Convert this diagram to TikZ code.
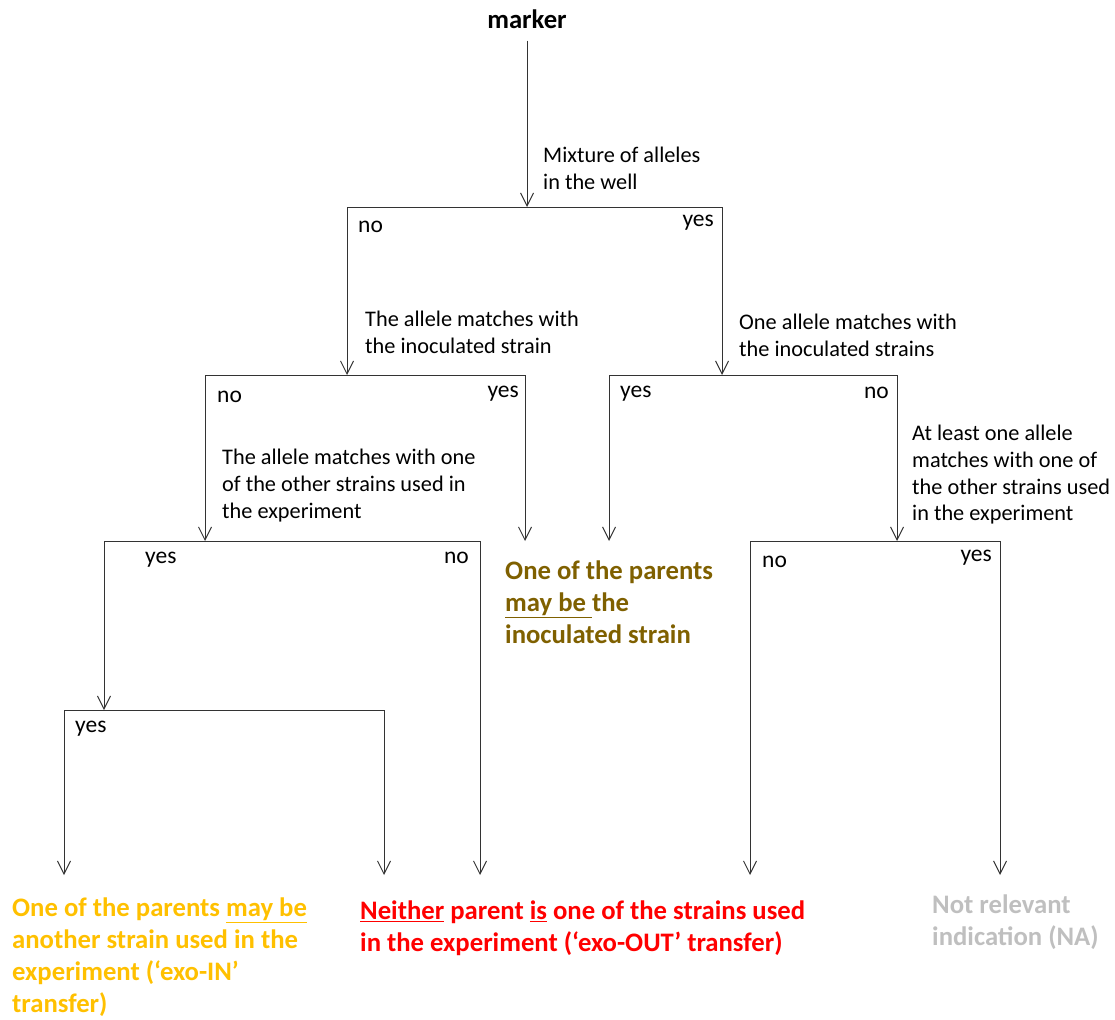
\documentclass[tikz,border=0pt]{standalone}
\usepackage{fontspec}
\setmainfont{Carlito}
\usetikzlibrary{arrows.meta, positioning}

\definecolor{exoin}{HTML}{FFC000}
\definecolor{inoc}{HTML}{7F6000}
\definecolor{exoout}{HTML}{FF0000}
\definecolor{na}{HTML}{BFBFBF}

\begin{document}
\begin{tikzpicture}[x=1pt, y=-1pt,
        branch/.style={draw=black!80, line width=1pt},
        arr/.style={branch, -{Straight Barb[length=13pt, width=13pt, line width=1pt]}},
        cond/.style={inner sep=0pt, anchor=north west, align=left, font=\fontsize{22.3}{26.7}\selectfont},
        ans/.style={inner sep=0pt, font=\fontsize{23.5}{28}\selectfont},
        result/.style={inner sep=0pt, anchor=north west, align=left, font=\fontsize{26.7}{31.8}\selectfont\bfseries}
    ]
        \useasboundingbox (0,0) rectangle (1115,1019);

        % Root
        \node[inner sep=0pt, font=\fontsize{26.7}{32}\selectfont\bfseries] (marker) at (527,19) {marker};

        % Junctions
        \coordinate (mix)       at (527,207);
        \coordinate (mix-no)    at (347,207);
        \coordinate (mix-yes)   at (722,207);
        \coordinate (inoc)      at (347,375);
        \coordinate (inoc-no)   at (205,375);
        \coordinate (inoc-yes)  at (525,375);
        \coordinate (one)       at (722,375);
        \coordinate (one-yes)   at (609,375);
        \coordinate (one-no)    at (897,375);
        \coordinate (other)     at (205,541);
        \coordinate (other-yes) at (104,541);
        \coordinate (other-no)  at (480,541);
        \coordinate (least)     at (897,541);
        \coordinate (least-no)  at (750,541);
        \coordinate (least-yes) at (1000,541);
        \coordinate (exo)       at (104,710);
        \coordinate (exo-yes)   at (64,710);
        \coordinate (exo-end)   at (384,710);

        % Arrow ends
        \coordinate (par-l) at (525,541);
        \coordinate (par-r) at (609,541);
        \coordinate (end1)  at (64,875);
        \coordinate (end2)  at (384,875);
        \coordinate (end3)  at (480,875);
        \coordinate (end4)  at (750,875);
        \coordinate (end5)  at (1000,875);

        % Branches
        \draw[arr, shorten <=12pt] (marker) -- (mix);
        \draw[branch] (mix-no) -- (mix-yes);
        \draw[arr] (mix-no) -- (inoc);
        \draw[arr] (mix-yes) -- (one);

        \draw[branch] (inoc-no) -- (inoc-yes);
        \draw[arr] (inoc-no) -- (other);
        \draw[arr] (inoc-yes) -- (par-l);

        \draw[branch] (one-yes) -- (one-no);
        \draw[arr] (one-yes) -- (par-r);
        \draw[arr] (one-no) -- (least);

        \draw[branch] (other-yes) -- (other-no);
        \draw[arr] (other-yes) -- (exo);
        \draw[arr] (other-no) -- (end3);

        \draw[branch] (least-no) -- (least-yes);
        \draw[arr] (least-no) -- (end4);
        \draw[arr] (least-yes) -- (end5);

        \draw[branch] (exo-yes) -- (exo-end);
        \draw[arr] (exo-yes) -- (end1);
        \draw[arr] (exo-end) -- (end2);

        % Answers
        \node[ans, anchor=west] (a1n) at (358,227) {no};
        \node[ans, anchor=east] (a1y) at (714,223) {yes};
        \node[ans, anchor=west] (a2n) at (217,397) {no};
        \node[ans, anchor=east] (a2y) at (519,394) {yes};
        \node[ans, anchor=west] (a3y) at (620,394) {yes};
        \node[ans, anchor=east] (a3n) at (889,393) {no};
        \node[ans, anchor=west] (a4y) at (145,560) {yes};
        \node[ans, anchor=east] (a4n) at (469,558) {no};
        \node[ans, anchor=west] (a5n) at (762,562) {no};
        \node[ans, anchor=east] (a5y) at (992,558) {yes};
        \node[ans, anchor=west] (a6y) at (75,729) {yes};

        % Conditions
        \node[cond] (q1) at (543,147) {Mixture of alleles\\in the well};
        \node[cond] (q2) at (365,311) {The allele matches with\\the inoculated strain};
        \node[cond] (q3) at (739,314) {One allele matches with\\the inoculated strains};
        \node[cond] (q4) at (222,449) {The allele matches with one\\of the other strains used in\\the experiment};
        \node[cond] (q5) at (912,425) {At least one allele\\matches with one of\\the other strains used\\in the experiment};

        % Results
        \node[result, text=inoc] (r1) at (505,561) {One of the parents\\\underline{may be\ }the\\inoculated strain};
        \node[result, text=exoin] (r2) at (12,898) {One of the parents \underline{may be}\\another strain used in the\\experiment (‘exo-IN’\\transfer)};
        \node[result, text=exoout] (r3) at (360,901) {\underline{Neither} parent \underline{is} one of the strains used\\in the experiment (‘exo-OUT’ transfer)};
        \node[result, text=na] (r4) at (932,895) {Not relevant\\indication (NA)};

    \end{tikzpicture}
\end{document}
